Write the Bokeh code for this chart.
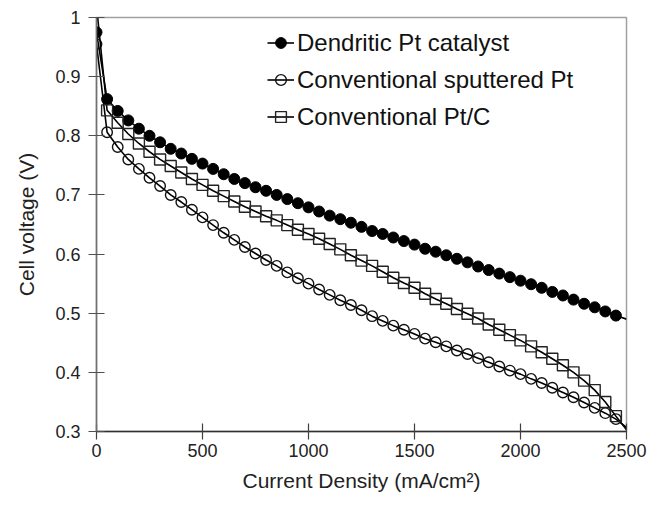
from bokeh.plotting import figure
from bokeh.models import Range1d, FixedTicker, Legend, LegendItem
from bokeh.embed import file_html
from bokeh.resources import INLINE

# ---- data ----
current = [0, 50, 100, 150, 200, 250, 300, 350, 400, 450, 500, 550, 600, 650, 700,
           750, 800, 850, 900, 950, 1000, 1050, 1100, 1150, 1200, 1250, 1300, 1350,
           1400, 1450, 1500, 1550, 1600, 1650, 1700, 1750, 1800, 1850, 1900, 1950,
           2000, 2050, 2100, 2150, 2200, 2250, 2300, 2350, 2400, 2450, 2500]

dendritic = [0.975, 0.862, 0.842, 0.826, 0.812, 0.800, 0.789, 0.778, 0.770, 0.761,
             0.753, 0.744, 0.735, 0.727, 0.720, 0.713, 0.707, 0.700, 0.693, 0.686,
             0.679, 0.672, 0.665, 0.659, 0.653, 0.646, 0.639, 0.634, 0.628, 0.622,
             0.616, 0.609, 0.604, 0.598, 0.592, 0.586, 0.579, 0.573, 0.567, 0.561,
             0.555, 0.549, 0.543, 0.536, 0.530, 0.523, 0.516, 0.510, 0.503, 0.496,
             0.490]

sputtered = [0.955, 0.806, 0.781, 0.760, 0.744, 0.729, 0.715, 0.700, 0.688, 0.675,
             0.662, 0.649, 0.636, 0.624, 0.612, 0.601, 0.590, 0.580, 0.569, 0.559,
             0.550, 0.540, 0.531, 0.522, 0.514, 0.505, 0.495, 0.487, 0.479, 0.472,
             0.465, 0.457, 0.451, 0.444, 0.437, 0.431, 0.424, 0.417, 0.410, 0.403,
             0.397, 0.389, 0.382, 0.374, 0.366, 0.358, 0.349, 0.340, 0.331, 0.321,
             0.307]

ptc = [1.020, 0.843, 0.822, 0.803, 0.787, 0.773, 0.760, 0.749, 0.738, 0.727,
       0.717, 0.707, 0.698, 0.689, 0.680, 0.672, 0.664, 0.657, 0.649, 0.641,
       0.634, 0.626, 0.617, 0.608, 0.598, 0.589, 0.580, 0.570, 0.560, 0.551,
       0.543, 0.533, 0.524, 0.516, 0.507, 0.499, 0.491, 0.481, 0.472, 0.463,
       0.454, 0.444, 0.434, 0.423, 0.412, 0.400, 0.386, 0.370, 0.350, 0.326,
       0.303]

series_names = ["Dendritic Pt catalyst", "Conventional sputtered Pt", "Conventional Pt/C"]

x_ticks = [0, 500, 1000, 1500, 2000, 2500]
y_ticks = [0.3, 0.4, 0.5, 0.6, 0.7, 0.8, 0.9, 1.0]
y_tick_labels = ["0.3", "0.4", "0.5", "0.6", "0.7", "0.8", "0.9", "1"]

FONT = "Liberation Sans"

p = figure(width=648, height=500,
           x_range=Range1d(0, 2500), y_range=Range1d(0.3, 1.0),
           output_backend="svg", toolbar_location=None,
           min_border_left=96, min_border_right=22,
           min_border_top=17, min_border_bottom=69)

p.xgrid.visible = False
p.ygrid.visible = False
p.background_fill_color = "white"
p.border_fill_color = "white"
p.outline_line_color = "#a0a0a0"
p.outline_line_width = 1.5

# axes
p.xaxis.ticker = FixedTicker(ticks=x_ticks)
p.yaxis.ticker = FixedTicker(ticks=y_ticks)
p.yaxis.major_label_overrides = {t: l for t, l in zip(y_ticks, y_tick_labels)}
p.xaxis.axis_label = "Current Density (mA/cm\u00b2)"
p.yaxis.axis_label = "Cell voltage (V)"

for ax in (p.xaxis, p.yaxis):
    ax.major_tick_in = 8
    ax.major_tick_out = 8
    ax.minor_tick_in = 0
    ax.minor_tick_out = 0
    ax.major_label_text_font = FONT
    ax.major_label_text_font_size = "18px"
    ax.major_label_text_color = "#222222"
    ax.axis_label_text_font = FONT
    ax.axis_label_text_font_size = "21px"
    ax.axis_label_text_font_style = "normal"
    ax.axis_label_text_color = "#222222"
    ax.axis_line_width = 1.5
    ax.major_tick_line_width = 1.2

p.xaxis.axis_line_color = "#303030"
p.xaxis.major_tick_line_color = "#404040"
p.yaxis.axis_line_color = "#707070"
p.yaxis.major_tick_line_color = "#505050"
p.xaxis.major_label_standoff = 4
p.yaxis.major_label_standoff = 8
p.xaxis.axis_label_standoff = 9
p.yaxis.axis_label_standoff = 14

mx = current[:-1]

l1 = p.line(current, dendritic, line_color="black", line_width=1.6)
s1 = p.scatter(mx, dendritic[:-1], marker="circle", size=11,
               fill_color="black", line_color="black", line_width=1)

l2 = p.line(current, sputtered, line_color="black", line_width=1.6)
s2 = p.scatter(mx, sputtered[:-1], marker="circle", size=10.5,
               fill_color=None, line_color="#111111", line_width=1.4)

l3 = p.line(current, ptc, line_color="black", line_width=1.6)
s3 = p.scatter(mx, ptc[:-1], marker="square", size=11,
               fill_color=None, line_color="#222222", line_width=1.4)

legend = Legend(items=[
    LegendItem(label=series_names[0], renderers=[l1, s1]),
    LegendItem(label=series_names[1], renderers=[l2, s2]),
    LegendItem(label=series_names[2], renderers=[l3, s3]),
], location=(171, 296))
legend.padding = 0
legend.spacing = 0
legend.margin = 0
legend.glyph_width = 27
legend.glyph_height = 37
legend.label_height = 37
legend.label_standoff = 3
legend.label_text_font = FONT
legend.label_text_font_size = "24px"
legend.label_text_color = "#111111"
legend.border_line_color = None
legend.background_fill_alpha = 0
p.add_layout(legend, "center")

open("out.html", "w").write(file_html(p, INLINE))
